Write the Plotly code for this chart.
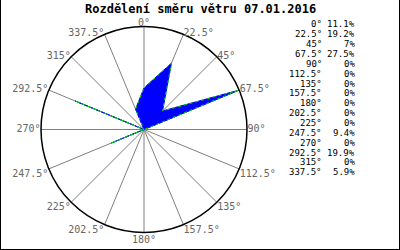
import plotly.graph_objects as go

directions = [0, 22.5, 45, 67.5, 90, 112.5, 135, 157.5, 180, 202.5, 225, 247.5, 270, 292.5, 315, 337.5]
percent = [11.1, 19.2, 7, 27.5, 0, 0, 0, 0, 0, 0, 0, 9.4, 0, 19.9, 0, 5.9]
title_text = "Rozdělení směru větru 07.01.2016"

def fmt_num(v):
    return "%g" % v

dir_labels = [fmt_num(d) + "°" for d in directions]
pct_labels = [fmt_num(p) + "%" for p in percent]

def label_pos(d):
    if d in (0, 180):
        return "middle center"
    if 0 < d <= 90:
        return "middle right"
    if 90 < d < 180:
        return "bottom right"
    if 180 < d < 270:
        return "bottom left"
    return "middle left"

def label_pad(d):
    if d == 0:
        return 1.03
    if d == 180:
        return 1.08
    return 1.005

MONO = "DejaVu Sans Mono, Liberation Mono, monospace"
rmax = max(percent)

fig = go.Figure()
theta_closed = directions + [directions[0]]
r_closed = percent + [percent[0]]
fig.add_trace(go.Scatterpolar(
    r=r_closed, theta=theta_closed, mode="lines", fill="toself",
    fillcolor="#0000ff", line=dict(color="#0000ff", width=1),
    hoverinfo="skip", showlegend=False, subplot="polar"))
fig.add_trace(go.Scatterpolar(
    r=r_closed, theta=theta_closed, mode="lines",
    line=dict(color="#00dd00", width=1, dash="dot"),
    hoverinfo="skip", showlegend=False, subplot="polar"))
# angular labels placed by an overlaid (larger, same-scale) polar just outside the circle
fig.add_trace(go.Scatterpolar(
    r=[rmax * label_pad(d) for d in directions], theta=directions, mode="text",
    text=dir_labels, textposition=[label_pos(d) for d in directions],
    textfont=dict(family=MONO, size=10, color="#666666"),
    cliponaxis=False, hoverinfo="skip", showlegend=False, subplot="polar2"))

cx, cy, rad = 144, 129.5, 103
k = 1.15
W, H = 400, 250

def domain(radius):
    return dict(x=[(cx - radius) / W, (cx + radius) / W],
                y=[(H - cy - radius) / H, (H - cy + radius) / H])

fig.update_layout(
    width=W, height=H,
    margin=dict(l=0, r=0, t=0, b=0),
    paper_bgcolor="white",
    font=dict(family=MONO, size=10, color="#666666"),
    polar=dict(
        domain=domain(rad),
        bgcolor="white",
        radialaxis=dict(range=[0, rmax], showticklabels=False, showgrid=False,
                        showline=False, ticks=""),
        angularaxis=dict(direction="clockwise", rotation=90,
                         tickmode="array", tickvals=directions, ticktext=dir_labels,
                         showticklabels=False,
                         showgrid=True, gridcolor="#808080", gridwidth=1,
                         showline=True, linecolor="black", linewidth=1.5,
                         ticks=""),
    ),
    polar2=dict(
        domain=domain(rad * k),
        bgcolor="rgba(0,0,0,0)",
        radialaxis=dict(range=[0, rmax * k], visible=False),
        angularaxis=dict(direction="clockwise", rotation=90, visible=False),
    ),
)

annotations = [dict(text="<b>" + title_text + "</b>", x=0.5, y=1 - 9 / H, xref="paper", yref="paper",
                    xanchor="center", yanchor="middle", showarrow=False,
                    font=dict(family=MONO, size=12, color="black"))]
row0, step = 24.5, 9.85
for i, (dl, pl) in enumerate(zip(dir_labels, pct_labels)):
    yy = 1 - (row0 + i * step) / H
    annotations.append(dict(text=dl, x=324 / W, y=yy, xref="paper", yref="paper",
                            xanchor="right", yanchor="middle", showarrow=False,
                            font=dict(family=MONO, size=9, color="black")))
    annotations.append(dict(text=pl, x=357 / W, y=yy, xref="paper", yref="paper",
                            xanchor="right", yanchor="middle", showarrow=False,
                            font=dict(family=MONO, size=9, color="black")))
fig.update_layout(annotations=annotations)

fig.update_layout(shapes=[
    dict(type="line", xref="paper", yref="paper", x0=0, x1=0, y0=0, y1=1,
         line=dict(color="black", width=2)),
    dict(type="line", xref="paper", yref="paper", x0=1, x1=1, y0=0, y1=1,
         line=dict(color="black", width=2)),
    dict(type="line", xref="paper", yref="paper", x0=0, x1=1, y0=0, y1=0,
         line=dict(color="black", width=2)),
])

fig.write_html("out.html")
